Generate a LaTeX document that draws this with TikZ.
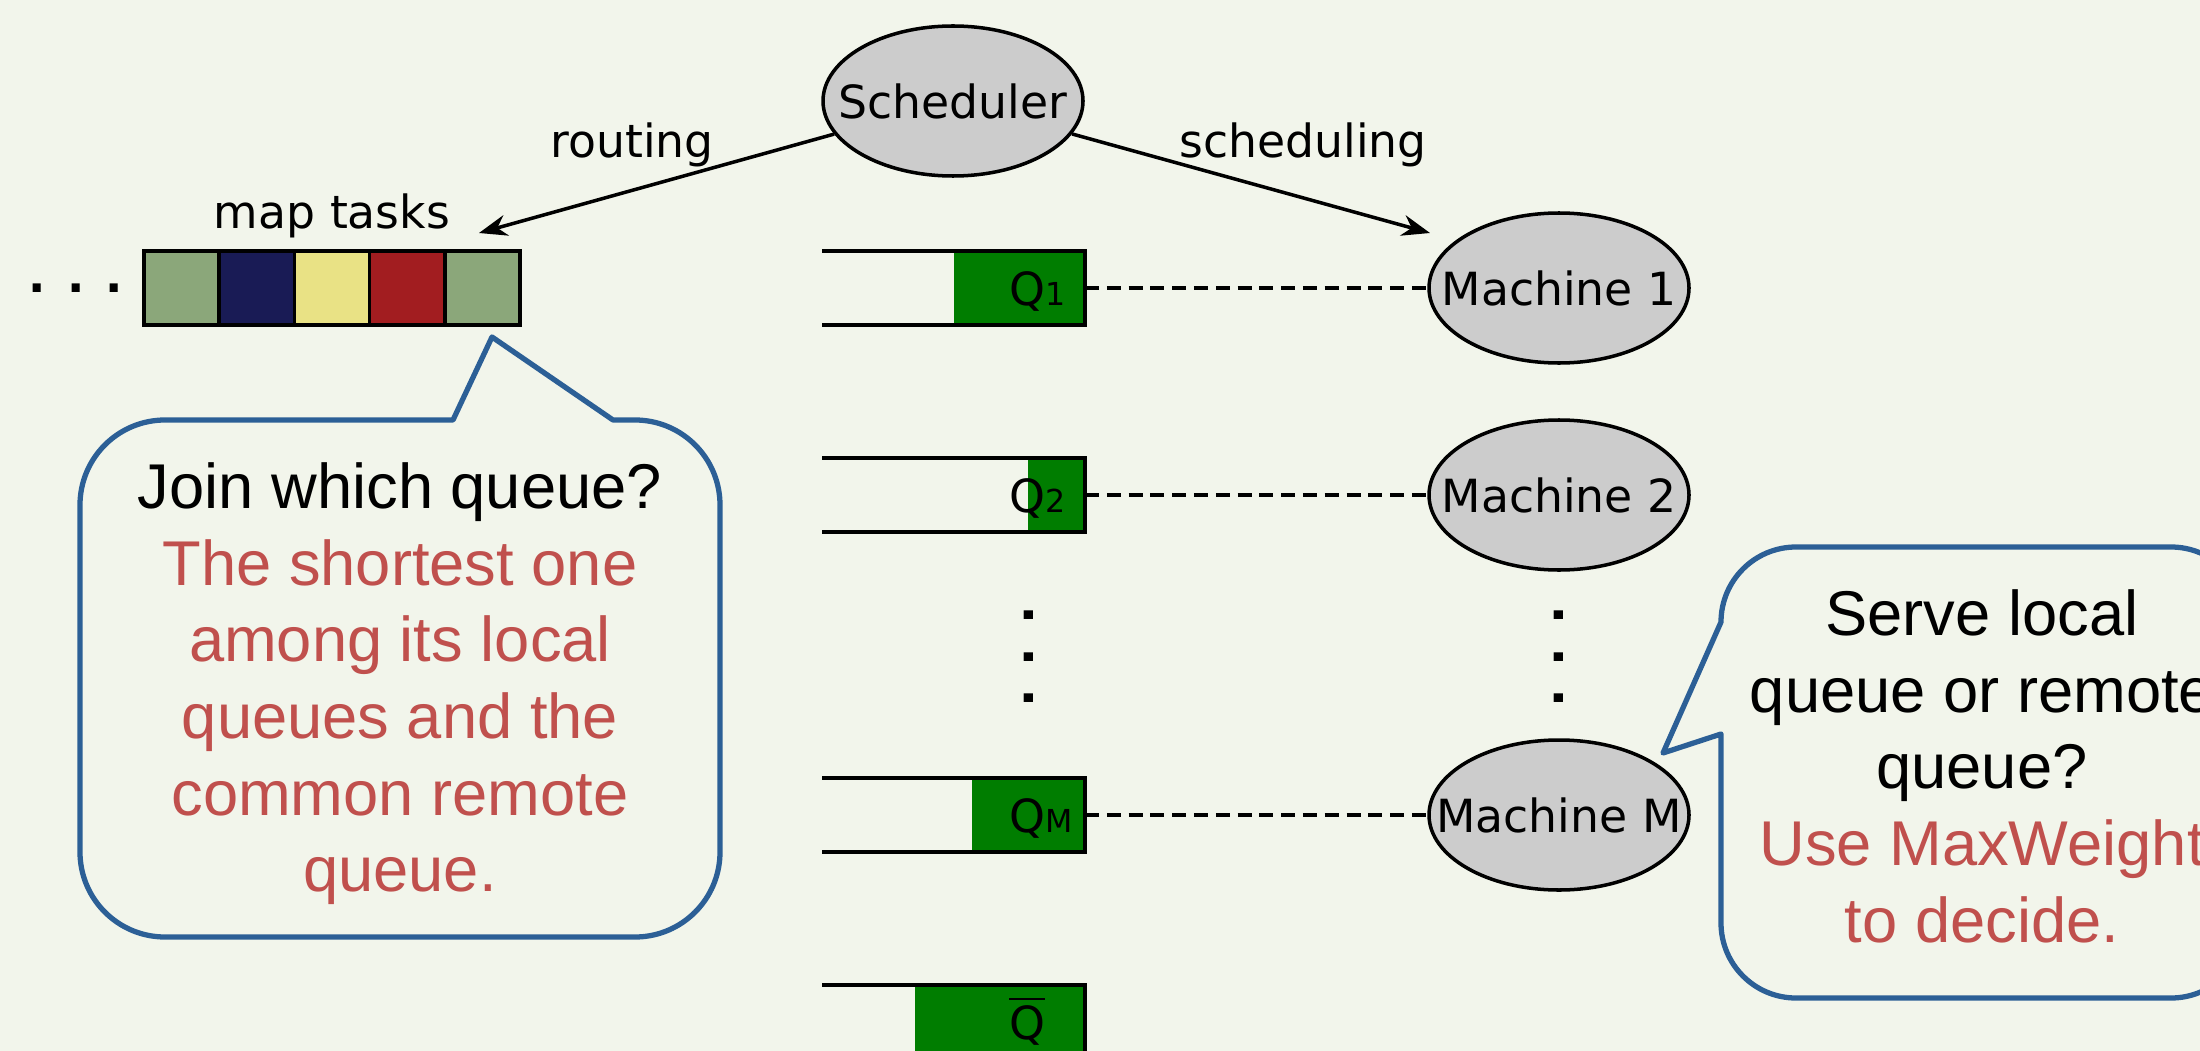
\documentclass[tikz,border=0pt]{standalone}
\usepackage{fontspec}
\setmainfont{DejaVu Sans}
\newfontfamily\callfont{Liberation Sans}
\usepackage{amsmath}
\usetikzlibrary{arrows.meta,positioning,shapes.geometric}

\definecolor{bgcol}{RGB}{242,245,235}
\definecolor{taskgreen}{RGB}{139,167,122}
\definecolor{tasknavy}{RGB}{25,27,85}
\definecolor{taskyellow}{RGB}{233,226,133}
\definecolor{taskred}{RGB}{162,29,32}
\definecolor{qgreen}{RGB}{0,125,0}
\definecolor{bubbleblue}{RGB}{44,95,150}
\definecolor{answerred}{RGB}{192,80,77}

\begin{document}
\begin{tikzpicture}
[
font=\fontsize{13}{15.6}\selectfont,
machine/.style={ellipse, draw=black, line width=1pt, fill=gray!40, minimum width=2.6cm, minimum height=1.5cm, inner xsep=-1cm, inner ysep=0pt},
task/.style={rectangle, draw=black, line width=1pt, minimum width=0.752cm, minimum height=0.74cm, inner sep=0pt, outer sep=0pt},
qline/.style={line width=1pt},
qlabel/.style={anchor=base west, inner sep=0pt},
link/.style={line width=1pt, dash pattern=on 4pt off 2.2pt},
route/.style={line width=1pt, -{Stealth[length=8pt,width=6pt]}},
bubble/.style={draw=bubbleblue, line width=1.5pt, line join=round},
answer/.style={font=\callfont\fontsize{18}{21.8}\selectfont, align=center, inner sep=0pt, anchor=north},
dotrow/.style={font=\fontsize{13}{15.6}\selectfont\bfseries, inner sep=0pt},
vdots/.style={font=\fontsize{14}{14}\selectfont\bfseries, rotate=90, inner sep=0pt}
]
%Background
\fill[bgcol] (0,0) rectangle (22,-10.51);
\useasboundingbox (0,0) rectangle (22,-10.51);
\clip (0,0) rectangle (22,-10.51);

%Nodes
\node[machine]      (sched)     at (9.53,-1.01)     {Scheduler};
\node[machine]      (m1)        at (15.59,-2.88)    {Machine 1};
\node[machine]      (m2)        at (15.59,-4.95)    {Machine 2};
\node[machine]      (mM)        at (15.59,-8.15)    {Machine M};
\node[vdots]        (mdots)     at (15.59,-6.57)    {. . .};

\node[task, fill=taskgreen]                 (t1) at (1.816,-2.88) {};
\node[task, fill=tasknavy,   right=0pt of t1] (t2) {};
\node[task, fill=taskyellow, right=0pt of t2] (t3) {};
\node[task, fill=taskred,    right=0pt of t3] (t4) {};
\node[task, fill=taskgreen,  right=0pt of t4] (t5) {};
\node[inner sep=0pt, above=0.12cm of t3]      (maptasks) {map tasks};
\node[dotrow, anchor=base] (more) at (0.76,-2.925) {. . .};

%Queues
\foreach \q/\y/\g in {q1/2.88/9.54, q2/4.95/10.28, qM/8.15/9.72, qbar/10.22/9.15}
{
  \fill[qgreen] (\g,-\y+0.37) rectangle (10.85,-\y-0.37);
  \draw[qline] (8.22,-\y+0.37) -- (10.85,-\y+0.37) -- (10.85,-\y-0.37) -- (8.22,-\y-0.37);
  \coordinate (\q) at (10.85,-\y);
}
\node[qlabel] (l1)   at (10.085,-3.05)  {Q{\fontsize{9}{9}\selectfont 1}};
\node[qlabel] (l2)   at (10.085,-5.12)  {Q{\fontsize{9}{9}\selectfont 2}};
\node[qlabel] (lM)   at (10.085,-8.32)  {Q{\fontsize{9}{9}\selectfont M}};
\node[qlabel] (lbar) at (10.085,-10.39) {$\overline{\mbox{Q}}$};
\node[vdots]  (qdots) at (10.29,-6.57)  {. . .};

%Lines
\coordinate (routeend) at (4.79,-2.33);
\coordinate (schedend) at (14.30,-2.33);
\draw[route] (sched) -- (routeend);
\draw[route] (sched) -- (schedend);
\node[anchor=base] (routing)    at (6.32,-1.57)  {routing};
\node[anchor=base] (scheduling) at (13.03,-1.57) {scheduling};

\draw[link] (q1) -- (m1);
\draw[link] (q2) -- (m2);
\draw[link] (qM) -- (mM);

%Callouts
\draw[bubble] (1.65,-4.20) -- (4.53,-4.20) -- (4.92,-3.37) -- (6.13,-4.20) -- (6.35,-4.20)
  arc[start angle=90, end angle=0, radius=0.85] -- (7.20,-8.52)
  arc[start angle=0, end angle=-90, radius=0.85] -- (1.65,-9.37)
  arc[start angle=270, end angle=180, radius=0.85] -- (0.80,-5.05)
  arc[start angle=180, end angle=90, radius=0.85] -- cycle;
\node[answer, text=answerred] (join) at (4.00,-4.62)
  {\textcolor{black}{Join which queue?}\\ The shortest one\\ among its local\\ queues and the\\ common remote\\ queue.};

\draw[bubble] (17.96,-5.47) -- (21.71,-5.47)
  arc[start angle=90, end angle=0, radius=0.75] -- (22.46,-9.23)
  arc[start angle=0, end angle=-90, radius=0.75] -- (17.96,-9.98)
  arc[start angle=270, end angle=180, radius=0.75] -- (17.21,-7.34) -- (16.63,-7.53) -- (17.21,-6.22)
  arc[start angle=180, end angle=90, radius=0.75] -- cycle;
\node[answer] (serve) at (19.82,-5.89)
  {Serve local\\ queue or remote\\ queue?\\ \textcolor{answerred}{Use MaxWeight}\\ \textcolor{answerred}{to decide.}};
\end{tikzpicture}
\end{document}
